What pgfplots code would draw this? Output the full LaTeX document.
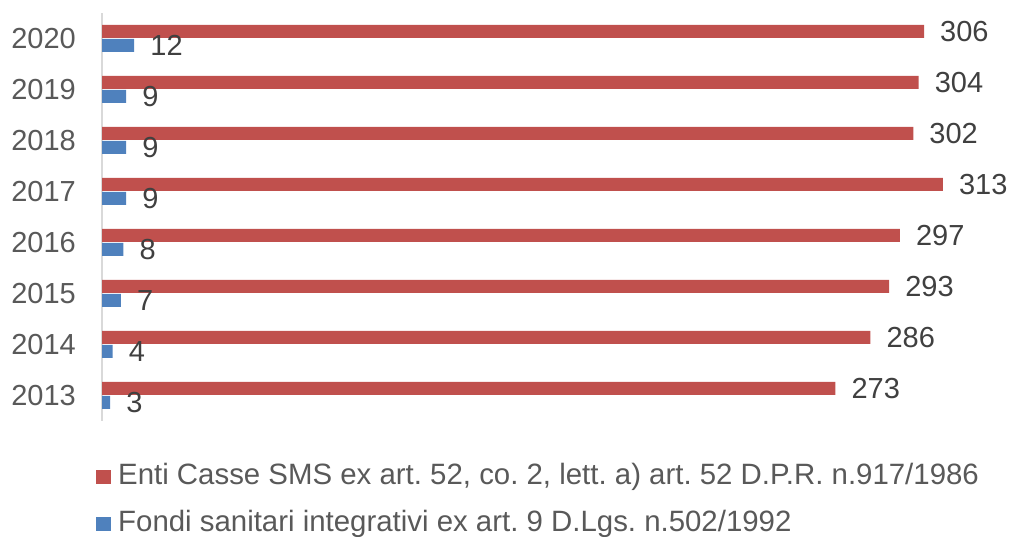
\documentclass[border=0pt]{standalone}
\usepackage{pgfplots}
\pgfplotsset{compat=1.18}
\usepackage{fontspec}
\setmainfont{Liberation Sans}
\definecolor{cred}{HTML}{C0504D}
\definecolor{cblue}{HTML}{4F81BD}
\definecolor{tgray}{HTML}{595959}
\definecolor{vgray}{HTML}{404040}
\definecolor{agray}{HTML}{D9D9D9}
\frenchspacing
\begin{document}
\begin{tikzpicture}[font=\fontsize{29}{34}\selectfont]
\path[use as bounding box] (0,0) rectangle (1009pt,537pt);
\begin{axis}[
  at={(102pt,116pt)}, anchor=south west,
  scale only axis, width=886.5pt, height=408pt,
  xmin=0, xmax=330, ymin=-0.5, ymax=7.5,
  xbar, bar width=13pt,
  axis x line=none, axis y line*=left,
  y axis line style={agray, line width=1.5pt},
  ytick={0,1,2,3,4,5,6,7},
  yticklabels={2013,2014,2015,2016,2017,2018,2019,2020},
  major tick length=0pt,
  yticklabel style={anchor=east, inner sep=0pt, xshift=-26pt, text=tgray, font=\fontsize{29}{34}\selectfont},
  clip=false,
  nodes near coords,
  nodes near coords style={anchor=west, inner sep=0pt, xshift=16pt, text=vgray, font=\fontsize{29}{34}\selectfont},
  /pgf/number format/assume math mode=true,
  legend style={draw=none, fill=none, inner sep=0pt, at={(-0.00677,-0.1029)}, anchor=north west,
    row sep=20.5pt, nodes={inner sep=0pt, text=tgray, text height=21pt, text depth=6pt},
    font=\fontsize{29.4}{34}\selectfont,
    /tikz/every odd column/.append style={column sep=7pt}},
  legend cell align=left,
  legend image code/.code={\fill[#1, draw=none] (0pt,-7pt) rectangle (15pt,7pt);},
]
\addplot[fill=cred, draw=none, bar shift=7pt] coordinates {(273,0) (286,1) (293,2) (297,3) (313,4) (302,5) (304,6) (306,7)};
\addplot[fill=cblue, draw=none, bar shift=-7pt] coordinates {(3,0) (4,1) (7,2) (8,3) (9,4) (9,5) (9,6) (12,7)};
\legend{{Enti Casse SMS ex art. 52, co. 2, lett. a) art. 52 D.P.R. n.917/1986}, {Fondi sanitari integrativi ex art. 9 D.Lgs. n.502/1992}}
\end{axis}
\end{tikzpicture}
\end{document}
